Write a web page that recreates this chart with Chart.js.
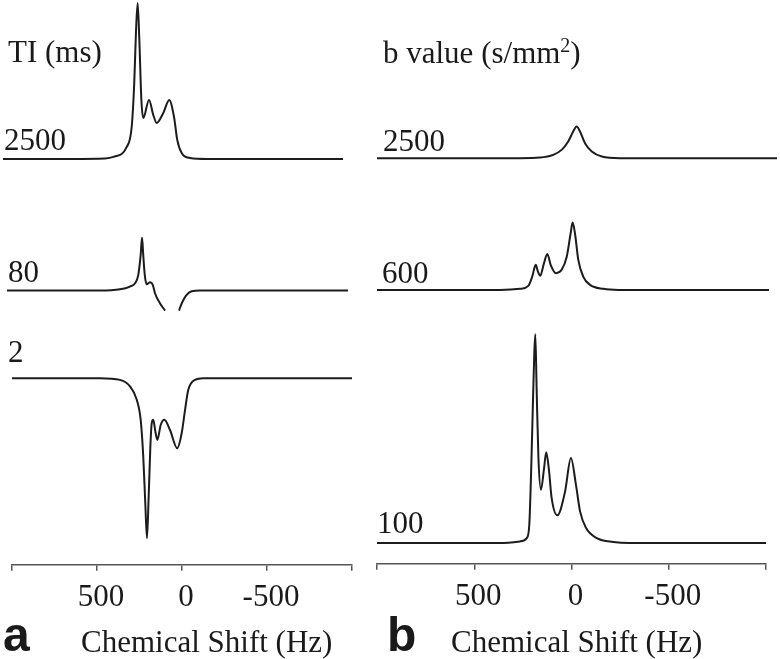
<!DOCTYPE html>
<html>
<head>
<meta charset="utf-8">
<script src="https://cdn.jsdelivr.net/npm/chart.js@4.4.1/dist/chart.umd.min.js"></script>
<style>
  body { margin: 0; background: #fff; width: 780px; height: 659px; overflow: hidden; position: relative; }
  .box { position: absolute; top: 0; }
  .lbl { position: absolute; font-family: "Liberation Serif", "Times New Roman", serif; font-size: 31px; line-height: 31px; color: #1a1a1a; white-space: nowrap; }
  .let { position: absolute; font-family: "Liberation Sans", Arial, sans-serif; font-weight: bold; font-size: 48px; line-height: 48px; color: #1a1a1a; }
  sup { font-size: 20px; vertical-align: 11px; line-height: 0; }
</style>
</head>
<body>
<div class="box" style="left:0;width:372px;height:624px"><canvas id="chartA"></canvas></div>
<div class="box" style="left:365px;width:415px;height:623px"><canvas id="chartB"></canvas></div>

<div class="lbl" style="left:8px;top:36px">TI (ms)</div>
<div class="lbl" style="left:4px;top:124px">2500</div>
<div class="lbl" style="left:8px;top:256px">80</div>
<div class="lbl" style="left:8px;top:336px">2</div>
<div class="lbl" style="left:383px;top:37px">b value (s/mm<sup>2</sup>)</div>
<div class="lbl" style="left:383px;top:125px">2500</div>
<div class="lbl" style="left:382px;top:257px">600</div>
<div class="lbl" style="left:377px;top:507px">100</div>
<div class="let" style="left:3px;top:611px">a</div>
<div class="lbl" style="left:81px;top:626px">Chemical Shift (Hz)</div>
<div class="let" style="left:387px;top:611px">b</div>
<div class="lbl" style="left:451px;top:626px">Chemical Shift (Hz)</div>

<script>
// chemical shift (Hz) and relative intensity
// panel a: inversion time TI (ms)
const a2500Hz  = [1000, 600, 400, 351, 272, 243, 228, 218, 208, 198, 186, 175, 141, 116, 96, 57, 22, -6, -25, -51, -100, -200, -600, -1000];
const a2500Amp = [0, 0, 0.3, 1.3, 7.7, 20.5, 48.7, 80.8, 100, 76.3, 37.8, 26.3, 37.8, 28.2, 23.1, 29.5, 37.8, 26.9, 12.2, 3.8, 0.6, 0, 0, 0];

const a80Hz  = [1000, 600, 455, 337, 279, 249, 230, 216, 208, 201, 192, 181, 161, 145, 132, 103, 73, 30, -9, -25, -50, -83, -132, -400, -1000];
const a80Amp = [0, 0, 0, 0.8, 2.6, 4.7, 10.1, 22.9, 34, 22.9, 10.1, 4.0, 5.3, 3.7, -1.7, -8.1, -12.8, null, -12.8, -8.1, -3.2, -0.4, 0, 0, 0];

const a2Hz  = [1000, 600, 482, 365, 306, 266, 243, 228, 216, 206, 196, 186, 178, 169, 157, 145, 125, 104, 71, 28, 2, -18, -37, -76, -125, -400, -1000];
const a2Amp = [0, 0, 0, -1.1, -5.3, -13.9, -26.7, -50, -80.1, -102.6, -75.6, -43.6, -28.8, -26.7, -34, -39.6, -29.9, -26.7, -33.1, -44.9, -35.3, -20.3, -7.5, -1.1, 0, 0, 0];

// panel b: b value (s/mm2)
const b2500Hz  = [1000, 600, 285, 185, 119, 77, 44, 19, 2, -15, -40, -74, -124, -215, -600, -1000];
const b2500Amp = [0, 0, 0, 0.3, 1.6, 4, 8, 12.8, 15.2, 12.8, 7.2, 3.2, 0.8, 0, 0, 0];

const b600Hz  = [1000, 600, 372, 270, 228, 208, 190, 179, 167, 148, 131, 114, 87, 58, 32, 12, 2, -10, -27, -52, -87, -155, -231, -600, -1000];
const b600Amp = [0, 0, 0, 0.5, 1.9, 6.4, 12, 8.8, 6.8, 12.8, 17.2, 12, 8, 9.6, 15.9, 27.1, 32.2, 27.1, 14.4, 6.4, 2.4, 0.5, 0, 0, 0];

const b100Hz  = [1000, 600, 368, 265, 230, 217, 208, 199, 191, 186, 179, 170, 157, 141, 130, 117, 102, 73, 33, 3, -23, -44, -75, -130, -215, -301, -600, -1000];
const b100Amp = [0, 0, 0, 0.8, 2.4, 8.8, 32.7, 64.6, 91.7, 100, 72.6, 40.7, 25.5, 35.9, 43.5, 35.9, 21.5, 13.3, 24.7, 40.7, 27.9, 15.2, 7.2, 2.4, 0.5, 0, 0, 0];

const xTicks = [1000, 500, 0, -500, -1000];

Chart.defaults.font.family = '"Liberation Serif", "Times New Roman", serif';
Chart.defaults.color = '#1a1a1a';

function pts(xs, ys) {
  return xs.map((x, i) => ({x: x, y: ys[i]}));
}

// hidden y axis putting a trace's baseline at basePx (k px per unit)
function yRange(basePx, bottom, k) {
  return {display: false, min: -(bottom - basePx) / k, max: basePx / k};
}

// hidden x axis, trace ends shifted d1 / d2 px from the plot edges
function xRange(d1, d2, w) {
  const s = 2000 / (w + d2 - d1);
  return {type: 'linear', display: false, reverse: true, min: 1000 - (w - d1) * s, max: 1000 + d1 * s};
}

function trace(xs, ys, xId, yId) {
  return {
    data: pts(xs, ys),
    xAxisID: xId,
    yAxisID: yId,
    borderColor: '#1c1c1c',
    borderWidth: 2,
    pointRadius: 0,
    cubicInterpolationMode: 'monotone',
    spanGaps: false,
    clip: false
  };
}

function shiftAxis() {
  return {
    type: 'linear',
    reverse: true,
    min: -1000,
    max: 1000,
    afterBuildTicks: (ax) => { ax.ticks = xTicks.map(v => ({value: v})); },
    grid: {drawOnChartArea: false, drawTicks: true, tickLength: 6, color: '#555', lineWidth: 1.5},
    border: {display: true, color: '#555', width: 1.5},
    ticks: {
      font: {size: 31},
      color: '#1a1a1a',
      padding: 8,
      labelOffset: 4,
      maxRotation: 0,
      autoSkip: false,
      callback: (v) => Math.abs(v) === 1000 ? '' : String(v)
    }
  };
}

function baseOptions(pad, scales) {
  return {
    responsive: true,
    maintainAspectRatio: false,
    animation: false,
    layout: {padding: pad},
    plugins: {legend: {display: false}, tooltip: {enabled: false}},
    scales: scales
  };
}

const kA = 1.56, botA = 565;
const chartA = new Chart(document.getElementById('chartA'), {
  type: 'line',
  data: {
    datasets: [
      trace(a2500Hz, a2500Amp, 'xT1', 'yT1'),
      trace(a80Hz, a80Amp, 'xT2', 'yT2'),
      trace(a2Hz, a2Amp, 'x', 'yT3')
    ]
  },
  options: baseOptions({left: 12, right: 20, top: 0, bottom: 0}, {
    x: shiftAxis(),
    xT1: xRange(-9, -9, 340),
    xT2: xRange(-5, -4, 340),
    yT1: yRange(159, botA, kA),
    yT2: yRange(290.7, botA, kA),
    yT3: yRange(378.3, botA, kA)
  })
});

const kB = 2.09, botB = 564;
const chartB = new Chart(document.getElementById('chartB'), {
  type: 'line',
  data: {
    datasets: [
      trace(b2500Hz, b2500Amp, 'xT1', 'yT1'),
      trace(b600Hz, b600Amp, 'xT2', 'yT2'),
      trace(b100Hz, b100Amp, 'x', 'yT3')
    ]
  },
  options: baseOptions({left: 12, right: 14, top: 0, bottom: 0}, {
    x: shiftAxis(),
    xT1: xRange(0, 11, 389),
    xT2: xRange(0, 3, 389),
    yT1: yRange(158.3, botB, kB),
    yT2: yRange(290, botB, kB),
    yT3: yRange(543.3, botB, kB)
  })
});
</script>
</body>
</html>
